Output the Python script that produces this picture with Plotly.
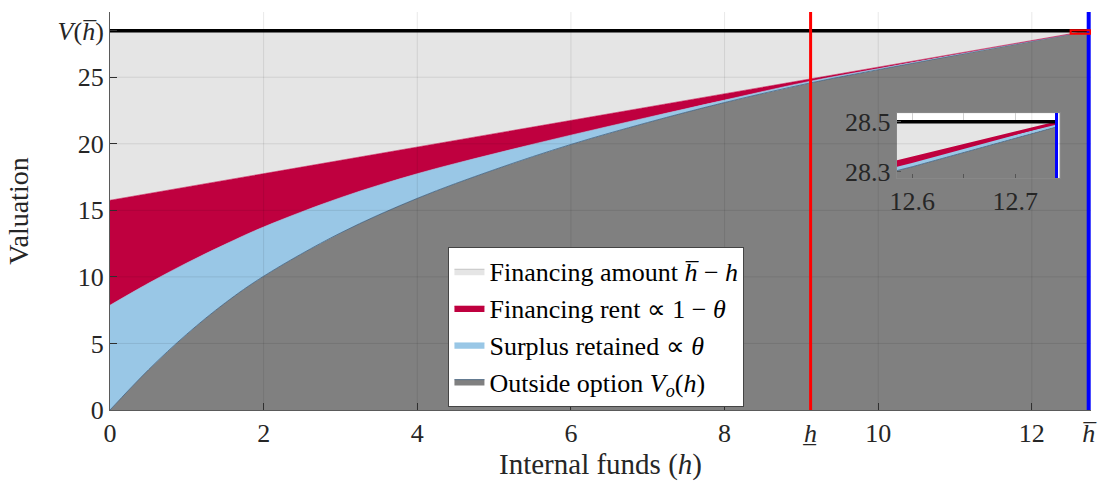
import plotly.graph_objects as go

# data
h = [0, 0.5, 1, 1.5, 2, 3, 4, 5, 6, 7, 8, 9.12, 10, 11, 12, 12.6, 12.74]
outside_option = [0, 3.02, 5.7, 8.05, 10.05, 13.3, 15.9, 18.05, 19.95, 21.6, 23.1,
                  24.575, 25.565, 26.645, 27.70, 28.32, 28.48]
surplus_top = [7.87, 9.52, 11.05, 12.45, 13.75, 15.95, 17.75, 19.25, 20.65, 21.98, 23.28,
               24.705, 25.645, 26.685, 27.715, 28.33, 28.487]
rent_top = [15.755, 16.255, 16.755, 17.255, 17.755, 18.755, 19.755, 20.755, 21.755,
            22.755, 23.755, 24.875, 25.755, 26.755, 27.755, 28.355, 28.495]
v_hbar = 28.5
h_under = 9.12
h_bar = 12.74

x_ticks = [0, 2, 4, 6, 8, h_under, 10, 12, h_bar]
x_labels = ["0", "2", "4", "6", "8", "<i>h\u0332</i>", "10", "12", "<i>h\u0305</i>"]
y_ticks = [0, 5, 10, 15, 20, 25, v_hbar]
y_labels = ["0", "5", "10", "15", "20", "25", "<i>V</i>(<i>h\u0305</i>)"]

inset_x = [12.585, 12.743]
inset_y = [28.275, 28.535]

C_LIGHT = "#e5e5e5"
C_RENT = "#bf003f"
C_SURP = "#99c7e6"
C_OUT = "#808080"
FONT = "Liberation Serif, Times New Roman, serif"

fig = go.Figure()

for ax, xa, ya, show in [("main", "x", "y", True), ("inset", "x2", "y2", False)]:
    shape = "spline" if ax == "main" else "linear"
    fig.add_trace(go.Scatter(x=h, y=outside_option, xaxis=xa, yaxis=ya, mode="lines", fill="tozeroy",
                             fillcolor=C_OUT, line=dict(color="#3f5f7f", width=0.8, shape=shape),
                             name="Outside option <i>V<sub>o</sub></i>(<i>h</i>)", showlegend=show))
    fig.add_trace(go.Scatter(x=h, y=surplus_top, xaxis=xa, yaxis=ya, mode="lines", fill="tonexty",
                             fillcolor=C_SURP,
                             line=dict(color=C_SURP, width=2.5 if ax == "inset" else 0.6, shape=shape),
                             name="Surplus retained \u221d <i>\u03b8</i>", showlegend=show))
    fig.add_trace(go.Scatter(x=h, y=rent_top, xaxis=xa, yaxis=ya, mode="lines", fill="tonexty",
                             fillcolor=C_RENT, line=dict(color=C_RENT, width=3 if ax == "inset" else 0.6),
                             name="Financing rent \u221d 1 \u2212 <i>\u03b8</i>", showlegend=show))
    fig.add_trace(go.Scatter(x=h, y=[v_hbar] * len(h), xaxis=xa, yaxis=ya, mode="lines", fill="tonexty",
                             fillcolor=C_LIGHT, line=dict(color="#999999", width=0.5),
                             name="Financing amount <i>h\u0305</i> \u2212 <i>h</i>", showlegend=show))
    fig.add_trace(go.Scatter(x=[0, h_bar], y=[v_hbar, v_hbar], xaxis=xa, yaxis=ya, mode="lines",
                             line=dict(color="black", width=3.5), showlegend=False, hoverinfo="skip"))

# grid drawn over the fills, as in the original
for xv in [2, 4, 6, 8, 10, 12]:
    fig.add_shape(type="line", xref="x", yref="paper", x0=xv, x1=xv, y0=0, y1=1,
                  line=dict(color="rgba(0,0,0,0.09)", width=1), layer="above")
for yv in [5, 10, 15, 20, 25]:
    fig.add_shape(type="line", xref="paper", yref="y", x0=0, x1=1, y0=yv, y1=yv,
                  line=dict(color="rgba(0,0,0,0.09)", width=1), layer="above")

fig.add_shape(type="line", xref="x", yref="paper", x0=h_under, x1=h_under, y0=0, y1=1,
              line=dict(color="#ff0000", width=3), layer="above")
fig.add_shape(type="line", xref="x", yref="paper", x0=h_bar, x1=h_bar, y0=0, y1=1,
              line=dict(color="#0000ff", width=4), layer="above")
fig.add_shape(type="line", xref="x2", yref="y2 domain", x0=h_bar, x1=h_bar, y0=0, y1=1,
              line=dict(color="#0000ff", width=3), layer="above")
fig.add_shape(type="rect", xref="x", yref="y", x0=inset_x[0] - 0.08, x1=inset_x[1] + 0.02,
              y0=inset_y[0], y1=inset_y[1], line=dict(color="#ff0000", width=2), layer="above")

axis_common = dict(showgrid=False, zeroline=False, showline=True, linecolor="#5a5a5a", linewidth=1,
                   ticks="inside", ticklen=7, tickcolor="#333333", layer="above traces",
                   automargin=False, tickfont=dict(family=FONT, size=26, color="#262626"))
inset_common = dict(zeroline=False, showline=True, mirror=True, linecolor="#888888",
                    ticks="inside", ticklen=4, tickcolor="#555555", automargin=False,
                    tickfont=dict(family=FONT, size=26, color="#262626"))

fig.update_layout(
    width=1100, height=483,
    margin=dict(l=110, r=9, t=12, b=73),
    paper_bgcolor="white", plot_bgcolor="white",
    font=dict(family=FONT, size=26, color="#262626"),
    xaxis=dict(range=[0, h_bar + 0.03], domain=[0, 1], tickvals=x_ticks, ticktext=x_labels,
               title=dict(text="Internal funds (<i>h</i>)", font=dict(size=29), standoff=6),
               **axis_common),
    yaxis=dict(range=[0, 29.9], domain=[0, 1], tickvals=y_ticks, ticktext=y_labels,
               title=dict(text="Valuation", font=dict(size=28), standoff=20), **axis_common),
    xaxis2=dict(range=inset_x, domain=[0.802, 0.968], anchor="y2", tickvals=[12.6, 12.65, 12.7],
                ticktext=["12.6", "", "12.7"], showgrid=True, gridcolor="#d0d0d0", **inset_common),
    yaxis2=dict(range=inset_y, domain=[0.583, 0.746], anchor="x2", tickvals=[28.3, 28.5],
                ticktext=["28.3", "28.5"], showgrid=False, **inset_common),
    legend=dict(x=0.345, y=0.41, xanchor="left", yanchor="top", traceorder="reversed",
                bgcolor="white", bordercolor="#444444", borderwidth=1,
                font=dict(family=FONT, size=26, color="black"), tracegroupgap=0,
                itemwidth=30),
    showlegend=True,
)

fig.write_html("out.html", config={"displayModeBar": False},
               post_script="document.body.style.margin='0';document.body.style.overflow='hidden';")
